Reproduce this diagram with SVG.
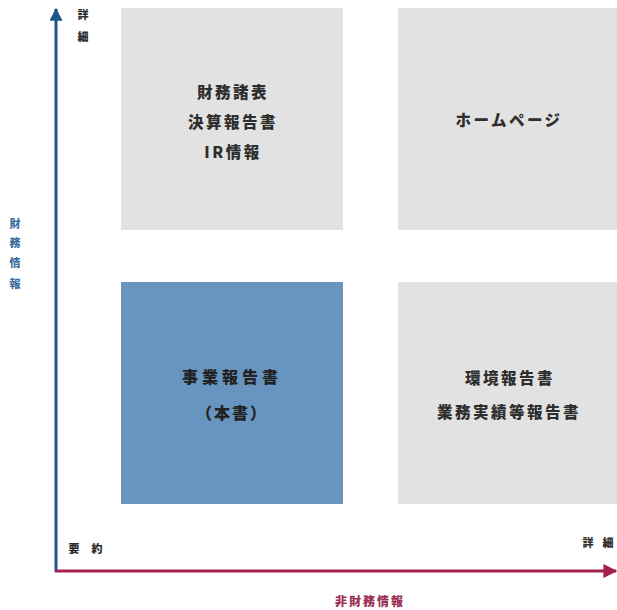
<svg xmlns="http://www.w3.org/2000/svg" width="617" height="610" viewBox="0 0 617 610">
<defs>
<style>
.box{fill:#e2e2e2;}
.blue{fill:#6795c0;}
.t{font-family:"Noto Sans CJK JP","Noto Sans",sans-serif;font-weight:900;font-size:15.5px;fill:#2e2e2e;text-anchor:middle;letter-spacing:2.5px;}
.s{font-family:"Noto Sans CJK JP","Noto Sans",sans-serif;font-weight:900;font-size:11px;fill:#2e2e2e;text-anchor:middle;}
.sb{fill:#3d6e9e;}
.sr{fill:#9c2f58;}
</style>
<marker id="ab" viewBox="0 0 10 10" refX="9" refY="5" markerWidth="13" markerHeight="13" markerUnits="userSpaceOnUse" orient="auto"><path d="M0,0 L10,5 L0,10 Z" fill="#1f5689"/></marker>
<marker id="ar" viewBox="0 0 10 10" refX="9" refY="5" markerWidth="14" markerHeight="14" markerUnits="userSpaceOnUse" orient="auto"><path d="M0,0 L10,5 L0,10 Z" fill="#a3204f"/></marker>
</defs>
<rect width="617" height="610" fill="#fff"/>
<g id="node-financial-statements">
<rect class="box" x="121" y="8" width="222" height="222"/>
<text class="t" x="233" y="98">財務諸表</text>
<text class="t" x="233" y="128">決算報告書</text>
<text class="t" x="233" y="158">IR情報</text>
</g>
<g id="node-homepage">
<rect class="box" x="398" y="8" width="222" height="222"/>
<text class="t" x="509" y="126">ホームページ</text>
</g>
<g id="node-business-report">
<rect class="blue" x="121" y="282" width="222" height="222"/>
<text class="t" x="232" y="383" style="font-size:16px;letter-spacing:4px;fill:#222">事業報告書</text>
<text class="t" x="232" y="419" style="font-size:16px;letter-spacing:2px;fill:#222">（本書）</text>
</g>
<g id="node-env-report">
<rect class="box" x="398" y="282" width="222" height="222"/>
<text class="t" x="510" y="384">環境報告書</text>
<text class="t" x="509" y="418">業務実績等報告書</text>
</g>
<g id="connectors">
<line x1="56" y1="572" x2="56" y2="9" stroke="#1f5689" stroke-width="3" marker-end="url(#ab)"/>
<line x1="55" y1="571" x2="616" y2="571" stroke="#a3204f" stroke-width="3" marker-end="url(#ar)"/>
</g>
<g id="labels">
<text class="s" x="83" y="19">詳</text>
<text class="s" x="83" y="41">細</text>
<text class="s sb" x="15" y="228">財</text>
<text class="s sb" x="15" y="247">務</text>
<text class="s sb" x="15" y="267">情</text>
<text class="s sb" x="15" y="288">報</text>
<text class="s" x="74" y="553">要</text>
<text class="s" x="97" y="553">約</text>
<text class="s" x="588" y="547">詳</text>
<text class="s" x="608" y="547">細</text>
<text class="s sr" x="370" y="606" style="font-size:12px;letter-spacing:2px">非財務情報</text>
</g>
</svg>
